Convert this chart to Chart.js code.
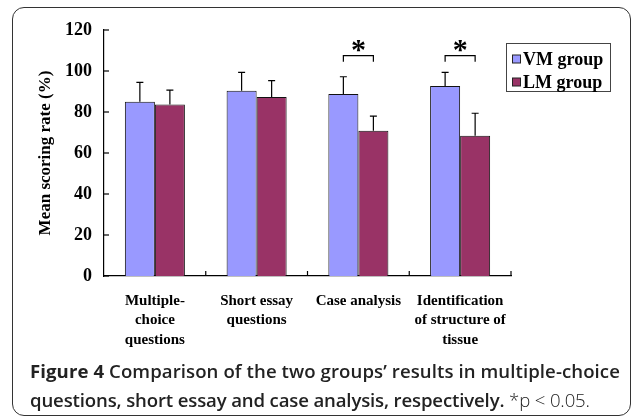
<!DOCTYPE html>
<html>
<head>
<meta charset="utf-8">
<script src="https://cdn.jsdelivr.net/npm/chart.js@4.4.1/dist/chart.umd.min.js"></script>
<style>
  html, body { margin: 0; padding: 0; background: #fff; }
  #wrap { position: relative; width: 634px; height: 418px; overflow: hidden; }
  #card { position: absolute; left: 12px; top: 7px; width: 617px; height: 407px;
          border: 1.5px solid #333; border-radius: 12px; }
  #chart { position: absolute; left: 0; top: 0; }
  #caption { position: absolute; left: 30px; top: 356px; width: 600px;
             font-family: "Open Sans", sans-serif; font-size: 18.6px; line-height: 29px;
             color: #222; font-weight: 600; white-space: nowrap; letter-spacing: -0.15px; }
  #caption .l1 { letter-spacing: 0.08px; }
  #caption b { font-weight: 700; }
  #caption .p { font-weight: 300; }
</style>
</head>
<body>
<div id="wrap">
  <div id="card"></div>
  <canvas id="chart" width="634" height="360"></canvas>
  <div id="caption"><span class="l1"><b>Figure 4</b> Comparison of the two groups’ results in multiple-choice</span><br>questions, short essay and case analysis, respectively. <span class="p">*p &lt; 0.05.</span></div>
</div>
<script>
// categories
const categories = [
  ['Multiple-', 'choice', 'questions'],
  ['Short essay', 'questions'],
  ['Case analysis'],
  ['Identification', 'of structure of', 'tissue']
]

// mean scoring rate (%)
const vmMeans = [85.0, 90.4, 88.8, 92.7]
const lmMeans = [83.6, 87.3, 70.9, 68.4]

// upper error (mean + SD)
const vmErrTop = [94.5, 99.3, 97.2, 99.3]
const lmErrTop = [90.7, 95.3, 78.0, 79.4]

// which categories get a significance star
const starred = [2, 3]

const yTicks = [0, 20, 40, 60, 80, 100, 120]

const serif = '"Liberation Serif", "Times New Roman", serif'

/** error bars, inward ticks, brackets, legend box */
const extras = {
  id: 'extras',
  afterDatasetsDraw(chart) {
    const ctx = chart.ctx
    const y = chart.scales.y
    const tops = [vmErrTop, lmErrTop]
    ctx.save()
    ctx.strokeStyle = '#000'
    ctx.lineWidth = 1.2

    // error bars (upper half only, with cap)
    chart.data.datasets.forEach((ds, di) => {
      const meta = chart.getDatasetMeta(di)
      meta.data.forEach((bar, i) => {
        const yt = y.getPixelForValue(tops[di][i])
        ctx.beginPath()
        ctx.moveTo(bar.x, bar.y)
        ctx.lineTo(bar.x, yt)
        ctx.moveTo(bar.x - 3.5, yt)
        ctx.lineTo(bar.x + 3.5, yt)
        ctx.stroke()
      })
    })

    // inward tick marks
    const area = chart.chartArea
    yTicks.forEach(v => {
      const py = y.getPixelForValue(v)
      ctx.beginPath()
      ctx.moveTo(area.left, py)
      ctx.lineTo(area.left + 5, py)
      ctx.stroke()
    })
    const step = (area.right - area.left) / categories.length
    for (let k = 1; k <= categories.length; k++) {
      const px = area.left + step * k
      ctx.beginPath()
      ctx.moveTo(px, area.bottom)
      ctx.lineTo(px, area.bottom - 5)
      ctx.stroke()
    }

    // significance brackets
    const m0 = chart.getDatasetMeta(0), m1 = chart.getDatasetMeta(1)
    starred.forEach(i => {
      const xa = m0.data[i].x, xb = m1.data[i].x
      const yb = y.getPixelForValue(107.5)
      const yl = y.getPixelForValue(104.5)
      ctx.beginPath()
      ctx.moveTo(xa, yl)
      ctx.lineTo(xa, yb)
      ctx.lineTo(xb, yb)
      ctx.lineTo(xb, yl)
      ctx.stroke()
      ctx.fillStyle = '#000'
      ctx.font = 'bold 30px ' + serif
      ctx.textAlign = 'center'
      ctx.textBaseline = 'middle'
      ctx.fillText('*', (xa + xb) / 2, y.getPixelForValue(109.5))
    })

    // legend box
    const lx = 506, ly = 43, lw = 104, lh = 48
    ctx.lineWidth = 1
    ctx.strokeStyle = '#444'
    ctx.strokeRect(lx + 0.5, ly + 0.5, lw, lh)
    ctx.font = 'bold 18px ' + serif
    ctx.textAlign = 'left'
    ctx.textBaseline = 'middle'
    chart.data.datasets.forEach((ds, di) => {
      const cy = ly + 16 + di * 23
      ctx.fillStyle = ds.backgroundColor
      ctx.fillRect(512.5, cy - 4, 8, 8)
      ctx.strokeStyle = '#222'
      ctx.strokeRect(512.5, cy - 4, 8, 8)
      ctx.fillStyle = '#000'
      ctx.fillText(ds.label, 523, cy + 1)
    })
    ctx.restore()
  }
}

const data = {
  labels: categories,
  datasets: [
    {
      label: 'VM group',
      data: vmMeans,
      backgroundColor: '#9999FF',
      borderColor: '#111',
      borderWidth: 1,
      borderSkipped: 'bottom'
    },
    {
      label: 'LM group',
      data: lmMeans,
      backgroundColor: '#993366',
      borderColor: '#111',
      borderWidth: 1,
      borderSkipped: 'bottom'
    }
  ]
}

const config = {
  type: 'bar',
  data: data,
  plugins: [extras],
  options: {
    responsive: false,
    animation: false,
    devicePixelRatio: 1,
    layout: { padding: { left: 31, top: 30, right: 123, bottom: 0 } },
    datasets: { bar: { categoryPercentage: 0.59, barPercentage: 1.0 } },
    plugins: {
      legend: { display: false },
      tooltip: { enabled: false }
    },
    scales: {
      y: {
        min: 0,
        max: 120,
        afterFit: s => { s.width = 73 },
        afterBuildTicks: s => { s.ticks = yTicks.map(v => ({ value: v })) },
        grid: { display: false, drawTicks: false },
        border: { display: true, color: '#000', width: 1.2 },
        ticks: {
          padding: 12,
          color: '#000',
          font: { family: serif, size: 18, weight: 'bold' }
        },
        title: {
          display: true,
          text: 'Mean scoring rate (%)',
          color: '#000',
          font: { family: serif, size: 17, weight: 'bold' }
        }
      },
      x: {
        afterFit: s => { s.height = 84 },
        grid: { display: false, drawTicks: false },
        border: { display: true, color: '#000', width: 1.2 },
        ticks: {
          padding: 15,
          autoSkip: false,
          maxRotation: 0,
          color: '#000',
          font: { family: serif, size: 15, weight: 'bold', lineHeight: 1.3 }
        }
      }
    }
  }
}

const myChart = new Chart(document.getElementById('chart'), config)
</script>
</body>
</html>
